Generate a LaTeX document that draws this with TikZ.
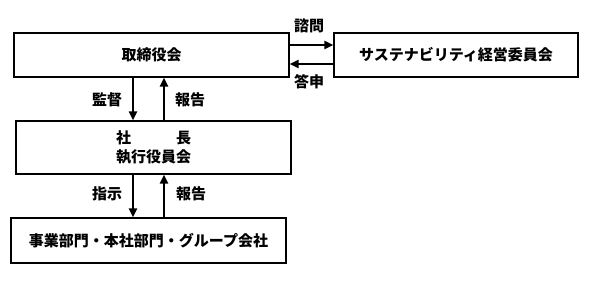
\documentclass[tikz,border=0pt]{standalone}
\usepackage{fontspec}
\setmainfont{Noto Sans CJK JP}
\usetikzlibrary{arrows.meta,positioning}
\tikzset{
    orgbox/.style={draw=black, line width=1.3pt, minimum height=#1, inner sep=0pt},
    flow/.style={line width=2.2pt, -{Triangle[length=9pt,width=8pt]}},
    lbl/.style={inner sep=0pt}
}

\begin{document}
\begin{tikzpicture}[x=1pt, y=1pt, font=\fontsize{15pt}{19pt}\selectfont\bfseries]
\useasboundingbox (0,0) rectangle (591,286);
\node[orgbox=44pt, minimum width=275pt] (board) at (151.5,231) {取締役会};
\node[orgbox=44pt, minimum width=244pt] (suscom) at (456,231) {サステナビリティ経営委員会};
\node[orgbox=53pt, minimum width=275pt, align=center] (exec) at (153.5,138.5) {社　　　長\\執行役員会};
\node[orgbox=45pt, minimum width=275pt] (units) at (148.5,45.5) {事業部門・本社部門・グループ会社};
\draw[flow] ([yshift=10pt]board.east) -- ([yshift=10pt]suscom.west);
\draw[flow] ([yshift=-9pt]suscom.west) -- ([yshift=-9pt]board.east);
\draw[flow] (board.south -| 133,0) -- (exec.north -| 133,0);
\draw[flow] (exec.north -| 164,0) -- (board.south -| 164,0);
\draw[flow] (exec.south -| 133,0) -- (units.north -| 133,0);
\draw[flow] (units.north -| 164,0) -- (exec.south -| 164,0);
\node[lbl] (ask) at (309,260) {諮問};
\node[lbl] (reply) at (309,204) {答申};
\node[lbl] (supv) at (107,186) {監督};
\node[lbl] (rep1) at (190,186) {報告};
\node[lbl] (instr) at (107,92) {指示};
\node[lbl] (rep2) at (191,92) {報告};
\end{tikzpicture}
\end{document}
